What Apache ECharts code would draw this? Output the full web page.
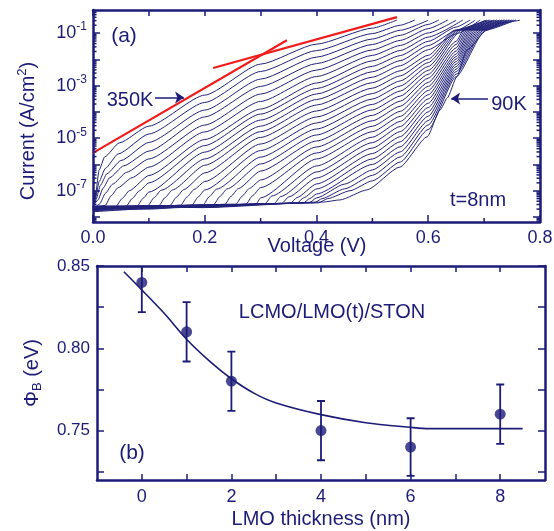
<!DOCTYPE html>
<html>
<head>
<meta charset="utf-8">
<script src="https://cdn.jsdelivr.net/npm/echarts@6/dist/echarts.min.js"></script>
<style>
  html, body { margin: 0; padding: 0; background: #fff; }
  #chart { width: 554px; height: 531px; }
</style>
</head>
<body>
<div id="chart"></div>
<script>
// (a) J-V curves, [voltage V, log10 current A/cm2], 350K on top down to 90K
const ivCurves = [
  [[0,-7.72],[0.004,-7.2],[0.011,-6.21],[0.021,-5.71],[0.047,-5.18],[0.1,-4.54],[0.2,-3.36],[0.3,-2.18],[0.4,-1.42],[0.5,-0.81],[0.544,-0.5]],
  [[0,-7.65],[0.005,-7.2],[0.011,-6.65],[0.022,-6.15],[0.045,-5.6],[0.1,-4.84],[0.2,-3.64],[0.3,-2.46],[0.4,-1.665],[0.5,-1.017],[0.55,-0.699],[0.576,-0.5]],
  [[0,-7.7],[0.006,-7.3],[0.013,-6.8],[0.025,-6.35],[0.05,-5.85],[0.1,-5.16],[0.2,-3.93],[0.3,-2.75],[0.4,-1.913],[0.5,-1.225],[0.55,-0.891],[0.6,-0.51]],
  [[0,-7.6],[0.009,-7.35],[0.018,-6.9],[0.03,-6.5],[0.055,-6.05],[0.1,-5.49],[0.2,-4.19],[0.3,-3.03],[0.4,-2.16],[0.5,-1.433],[0.55,-1.084],[0.6,-0.669],[0.619,-0.5]],
  [[0,-7.75],[0.012,-7.5],[0.022,-7.1],[0.035,-6.75],[0.06,-6.3],[0.1,-5.79],[0.2,-4.5],[0.3,-3.32],[0.4,-2.407],[0.5,-1.64],[0.55,-1.277],[0.6,-0.829],[0.635,-0.5]],
  [[0,-7.64],[0.022,-7.56],[0.032,-7.2],[0.045,-6.88],[0.07,-6.5],[0.1,-6.1],[0.2,-4.76],[0.3,-3.6],[0.4,-2.654],[0.5,-1.848],[0.55,-1.47],[0.6,-0.992],[0.65,-0.51]],
  [[0,-7.7],[0.041,-7.6],[0.052,-7.3],[0.065,-7.0],[0.1,-6.42],[0.2,-5.05],[0.3,-3.89],[0.4,-2.901],[0.5,-2.056],[0.55,-1.662],[0.6,-1.152],[0.662,-0.5]],
  [[0,-7.62],[0.059,-7.6],[0.07,-7.3],[0.083,-7.0],[0.1,-6.7],[0.2,-5.28],[0.3,-4.08],[0.4,-3.11],[0.5,-2.263],[0.55,-1.855],[0.6,-1.312],[0.65,-0.768],[0.675,-0.5]],
  [[0,-7.78],[0.079,-7.59],[0.09,-7.28],[0.1,-7.05],[0.2,-5.53],[0.3,-4.31],[0.4,-3.319],[0.5,-2.471],[0.55,-2.048],[0.6,-1.475],[0.65,-0.901],[0.684,-0.51]],
  [[0,-7.66],[0.098,-7.58],[0.109,-7.27],[0.122,-6.98],[0.2,-5.79],[0.3,-4.54],[0.4,-3.529],[0.5,-2.678],[0.55,-2.241],[0.6,-1.631],[0.65,-1.027],[0.693,-0.5]],
  [[0,-7.58],[0.118,-7.57],[0.129,-7.26],[0.142,-6.97],[0.2,-6.03],[0.3,-4.75],[0.4,-3.738],[0.5,-2.886],[0.55,-2.434],[0.6,-1.844],[0.648,-0.886],[0.702,-0.52]],
  [[0,-7.72],[0.1,-7.62],[0.138,-7.56],[0.149,-7.25],[0.162,-6.96],[0.2,-6.32],[0.3,-4.97],[0.4,-3.966],[0.5,-3.094],[0.55,-2.626],[0.6,-1.985],[0.651,-0.886],[0.705,-0.5]],
  [[0,-7.6],[0.1,-7.66],[0.157,-7.55],[0.168,-7.24],[0.181,-6.95],[0.2,-6.65],[0.3,-5.22],[0.4,-4.194],[0.5,-3.301],[0.55,-2.819],[0.6,-2.122],[0.654,-0.886],[0.708,-0.51]],
  [[0,-7.68],[0.1,-7.58],[0.177,-7.55],[0.188,-7.24],[0.2,-6.97],[0.3,-5.47],[0.4,-4.422],[0.5,-3.509],[0.55,-3.012],[0.6,-2.27],[0.657,-0.886],[0.711,-0.5]],
  [[0,-7.74],[0.1,-7.6],[0.197,-7.54],[0.208,-7.23],[0.221,-6.94],[0.3,-5.72],[0.4,-4.65],[0.5,-3.716],[0.55,-3.205],[0.6,-2.418],[0.66,-0.886],[0.714,-0.52]],
  [[0,-7.64],[0.1,-7.7],[0.216,-7.53],[0.227,-7.22],[0.24,-6.93],[0.3,-5.98],[0.4,-4.878],[0.5,-3.924],[0.55,-3.397],[0.6,-2.567],[0.65,-1.312],[0.663,-0.886],[0.717,-0.5]],
  [[0,-7.7],[0.15,-7.6],[0.236,-7.52],[0.247,-7.21],[0.26,-6.92],[0.3,-6.25],[0.4,-5.106],[0.5,-4.132],[0.55,-3.59],[0.6,-2.715],[0.65,-1.433],[0.666,-0.886],[0.719,-0.51]],
  [[0,-7.62],[0.15,-7.56],[0.256,-7.51],[0.267,-7.2],[0.28,-6.91],[0.3,-6.59],[0.4,-5.335],[0.5,-4.339],[0.55,-3.783],[0.6,-2.875],[0.65,-1.563],[0.669,-0.886],[0.723,-0.5]],
  [[0,-7.8],[0.15,-7.63],[0.274,-7.51],[0.285,-7.2],[0.3,-6.88],[0.4,-5.563],[0.5,-4.547],[0.55,-3.976],[0.6,-3.027],[0.65,-1.684],[0.672,-0.886],[0.726,-0.52]],
  [[0,-7.66],[0.2,-7.58],[0.292,-7.5],[0.3,-7.27],[0.4,-5.791],[0.5,-4.754],[0.55,-4.169],[0.6,-3.186],[0.65,-1.798],[0.675,-0.886],[0.728,-0.5]],
  [[0,-7.6],[0.2,-7.64],[0.308,-7.49],[0.32,-7.2],[0.4,-6.057],[0.5,-4.962],[0.55,-4.361],[0.6,-3.346],[0.65,-1.894],[0.678,-0.886],[0.732,-0.5]],
  [[0,-7.72],[0.2,-7.55],[0.324,-7.49],[0.336,-7.22],[0.4,-6.285],[0.5,-5.17],[0.55,-4.554],[0.6,-3.506],[0.65,-1.989],[0.681,-0.886],[0.735,-0.5]],
  [[0,-7.65],[0.2,-7.6],[0.338,-7.48],[0.35,-7.24],[0.4,-6.513],[0.5,-5.377],[0.55,-4.747],[0.6,-3.669],[0.65,-2.084],[0.684,-0.886],[0.737,-0.5]],
  [[0,-7.76],[0.2,-7.62],[0.353,-7.48],[0.365,-7.26],[0.4,-6.741],[0.5,-5.585],[0.55,-4.94],[0.6,-3.833],[0.65,-2.179],[0.687,-0.886],[0.741,-0.5]],
  [[0,-7.62],[0.2,-7.56],[0.365,-7.47],[0.377,-7.27],[0.4,-6.932],[0.5,-5.792],[0.55,-5.133],[0.6,-4.0],[0.65,-2.274],[0.69,-0.886],[0.744,-0.5]],
  [[0,-7.7],[0.2,-7.6],[0.376,-7.47],[0.388,-7.3],[0.4,-7.122],[0.5,-6.0],[0.55,-5.325],[0.6,-4.163],[0.65,-2.369],[0.693,-0.886],[0.746,-0.5]],
  [[0,-7.6],[0.2,-7.64],[0.387,-7.46],[0.4,-7.274],[0.45,-6.75],[0.5,-6.208],[0.55,-5.518],[0.6,-4.331],[0.65,-2.464],[0.696,-0.886],[0.75,-0.5]],
  [[0,-7.74],[0.2,-7.58],[0.396,-7.46],[0.41,-7.3],[0.45,-6.93],[0.5,-6.415],[0.55,-5.711],[0.6,-4.498],[0.65,-2.559],[0.699,-0.886],[0.753,-0.5]],
  [[0,-7.66],[0.2,-7.55],[0.404,-7.46],[0.42,-7.3],[0.46,-7.0],[0.5,-6.623],[0.55,-5.904],[0.6,-4.669],[0.65,-2.654],[0.702,-0.886],[0.757,-0.5]],
  [[0,-7.7],[0.2,-7.58],[0.412,-7.43],[0.442,-7.35],[0.49,-6.97],[0.549,-6.1],[0.598,-4.95],[0.621,-3.93],[0.634,-3.47],[0.651,-2.67],[0.669,-1.65],[0.705,-0.89],[0.728,-0.62],[0.764,-0.51]]
];

// red tangent lines
const redLineA = [[0, -5.56], [0.347, -1.27]];
const redLineB = [[0.215, -2.33], [0.544, -0.39]];

// annotation arrows (start, end) in data units
const arrow350 = [[0.111, -3.45], [0.163, -3.45]];
const arrow90 = [[0.707, -3.49], [0.641, -3.49]];

const voltLabels = [0, 0.2, 0.4, 0.6, 0.8];
const voltMinor = [0.1, 0.3, 0.5, 0.7];
const logLabels = [-7, -5, -3, -1];
const logDecades = [-8, -7, -6, -5, -4, -3, -2, -1];

// (b) barrier height vs LMO thickness
const thickness = [0, 1, 2, 4, 6, 8];
const barrier = [0.84, 0.81, 0.78, 0.75, 0.74, 0.76];
const barrierErr = [0.018, 0.018, 0.018, 0.018, 0.0175, 0.018];
const fitX = [-0.4, 0, 0.5, 1, 1.5, 2, 2.5, 3, 4, 5, 6, 6.4, 7, 8, 8.5];
const fitY = [0.8465, 0.8355, 0.8213, 0.8055, 0.7925, 0.7815, 0.7728, 0.7668, 0.7597, 0.7548, 0.752, 0.7512, 0.7512, 0.7512, 0.7512];
const phiLabels = [0.75, 0.80, 0.85];
const phiTicks = [0.725, 0.75, 0.775, 0.8, 0.825, 0.85];
const thickLabels = [0, 2, 4, 6, 8];
const thickTicks = [0, 1, 2, 3, 4, 5, 6, 7, 8];

const NAVY = '#1c1c78';
const CURVE = '#22227a';
const FONT = '"Liberation Sans", Arial, sans-serif';
const LOGMIN = -8.19, LOGMAX = -0.12;

// log minor ticks (2..9 x 10^n)
const logMinor = [];
for (let n = -9; n <= 0; n++) {
  for (let k = 2; k <= 9; k++) {
    const v = n + Math.log10(k);
    if (v > LOGMIN && v < LOGMAX) logMinor.push(v);
  }
}

const chart = echarts.init(document.getElementById('chart'));

const lblStyle = { color: NAVY, fontSize: 18, fontFamily: FONT };

function axis(grid, pos, min, max, ticks, len, label) {
  return {
    type: 'value', gridIndex: grid, position: pos, min: min, max: max,
    axisLine: { show: true, onZero: false, lineStyle: { color: NAVY, width: 2.5 } },
    axisTick: { show: true, inside: true, length: len, customValues: ticks,
      lineStyle: { color: NAVY, width: 1.5 } },
    axisLabel: label || { show: false },
    splitLine: { show: false }
  };
}

const logLabel = {
  customValues: logLabels, margin: 6,
  formatter: v => '{b|10}{s|' + Math.round(v) + '}',
  rich: {
    b: { color: NAVY, fontSize: 18, fontFamily: FONT, lineHeight: 24 },
    s: { color: NAVY, fontSize: 12, fontFamily: FONT, lineHeight: 12, verticalAlign: 'top' }
  }
};

const yLeftA = axis(0, 'left', LOGMIN, LOGMAX, logDecades, 7, logLabel);
Object.assign(yLeftA, {
  name: '{a|Current (A/cm}{s|2}{a|)}', nameLocation: 'middle', nameRotate: 90, nameGap: 53,
  nameMoveOverlap: false,
  nameTextStyle: {
    padding: [0, 30, 0, 0],
    rich: {
      a: { color: NAVY, fontSize: 20, fontFamily: FONT, lineHeight: 24 },
      s: { color: NAVY, fontSize: 13, fontFamily: FONT, lineHeight: 13, verticalAlign: 'top' }
    }
  }
});

const yLeftB = axis(1, 'left', 0.72, 0.85, phiTicks, 7,
  Object.assign({ customValues: phiLabels, margin: 7, formatter: v => v.toFixed(2) }, lblStyle, { fontSize: 17 }));
Object.assign(yLeftB, {
  name: '{a|\u03A6}{b|B}{a| (eV)}', nameLocation: 'middle', nameRotate: 90, nameGap: 53,
  nameMoveOverlap: false,
  nameTextStyle: {
    rich: {
      a: { color: NAVY, fontSize: 20, fontFamily: FONT, lineHeight: 24 },
      b: { color: NAVY, fontSize: 13, fontFamily: FONT, lineHeight: 13, verticalAlign: 'bottom' }
    }
  }
});

const option = {
  backgroundColor: '#ffffff',
  animation: false,
  grid: [
    { left: 93, top: 10, width: 447, height: 212, outerBoundsMode: 'none' },
    { left: 97, top: 266, width: 448, height: 214, outerBoundsMode: 'none' }
  ],
  xAxis: [
    axis(0, 'bottom', 0, 0.8, voltLabels, 7,
      Object.assign({ customValues: voltLabels, margin: 7, formatter: v => v.toFixed(1) }, lblStyle)),
    axis(0, 'top', 0, 0.8, voltLabels.concat(voltMinor), 6),
    axis(1, 'bottom', -1, 9, thickTicks, 6,
      Object.assign({ customValues: thickLabels, margin: 8, formatter: v => String(v) }, lblStyle)),
    axis(1, 'top', -1, 9, thickTicks, 6)
  ],
  yAxis: [
    yLeftA,
    axis(0, 'right', LOGMIN, LOGMAX, logDecades, 7),
    yLeftB,
    axis(1, 'right', 0.72, 0.85, phiTicks, 7)
  ],
  series: []
};

ivCurves.forEach(d => {
  option.series.push({
    type: 'line', xAxisIndex: 0, yAxisIndex: 0, data: d,
    symbol: 'none', smooth: 0.2, smoothMonotone: 'x', silent: true, z: 2,
    lineStyle: { color: CURVE, width: 1 }
  });
});

option.series.push({
  type: 'line', xAxisIndex: 0, yAxisIndex: 0, data: redLineA,
  symbol: 'none', silent: true, z: 4,
  lineStyle: { color: '#f01c1c', width: 2.2 },
  markLine: {
    silent: true, symbol: ['none', 'arrow'], symbolSize: 9,
    label: { show: false },
    emphasis: { disabled: true },
    lineStyle: { color: NAVY, width: 1.5, type: 'solid' },
    data: [
      [{ coord: arrow350[0] }, { coord: arrow350[1] }],
      [{ coord: arrow90[0] }, { coord: arrow90[1] }]
    ]
  }
});
option.series.push({
  type: 'line', xAxisIndex: 0, yAxisIndex: 0, data: redLineB,
  symbol: 'none', silent: true, z: 4,
  lineStyle: { color: '#f01c1c', width: 2.2 }
});

// short minor ticks of panel (a): side 0 = left, 1 = right, 2 = bottom
option.series.push({
  type: 'custom', xAxisIndex: 0, yAxisIndex: 0, silent: true, z: 6,
  data: logMinor.map(v => [0, v, 0]).concat(logMinor.map(v => [0, v, 1]), voltMinor.map(v => [v, LOGMIN, 2])),
  encode: { x: 0, y: 1 },
  renderItem: function (params, api) {
    const cs = params.coordSys;
    const st = { stroke: NAVY, lineWidth: 1.5 };
    const side = api.value(2);
    if (side === 2) {
      const px = api.coord([api.value(0), LOGMIN])[0];
      return { type: 'line', shape: { x1: px, y1: cs.y + cs.height, x2: px, y2: cs.y + cs.height - 4 }, style: st };
    }
    const y = api.coord([0, api.value(1)])[1];
    const x0 = side === 0 ? cs.x : cs.x + cs.width;
    const x1 = side === 0 ? cs.x + 3.5 : cs.x + cs.width - 3.5;
    return { type: 'line', shape: { x1: x0, y1: y, x2: x1, y2: y }, style: st };
  }
});

// (b) fit, points, error bars
option.series.push({
  type: 'line', xAxisIndex: 2, yAxisIndex: 2,
  data: fitX.map((x, i) => [x, fitY[i]]),
  symbol: 'none', smooth: 0.3, silent: true,
  lineStyle: { color: NAVY, width: 1.6 }
});
option.series.push({
  type: 'scatter', xAxisIndex: 2, yAxisIndex: 2,
  data: thickness.map((t, i) => [t, barrier[i]]),
  symbolSize: 11, itemStyle: { color: NAVY }, z: 5
});
option.series.push({
  type: 'custom', xAxisIndex: 2, yAxisIndex: 2, clip: true, z: 4,
  data: thickness.map((t, i) => [t, barrier[i] - barrierErr[i], barrier[i] + barrierErr[i]]),
  encode: { x: 0, y: [1, 2] },
  renderItem: function (params, api) {
    const lo = api.coord([api.value(0), api.value(1)]);
    const hi = api.coord([api.value(0), api.value(2)]);
    const w = 4;
    return {
      type: 'polyline',
      shape: { points: [[hi[0] - w, hi[1]], [hi[0] + w, hi[1]], [hi[0], hi[1]], [lo[0], lo[1]], [lo[0] - w, lo[1]], [lo[0] + w, lo[1]]] },
      style: { stroke: NAVY, lineWidth: 1.8, fill: null }
    };
  }
});

function txt(x, y, text, size) {
  return {
    type: 'text', x: x, y: y, z: 10,
    style: { text: text, fill: NAVY, font: size + 'px ' + FONT, align: 'center', verticalAlign: 'middle' }
  };
}

option.graphic = [
  txt(124, 36, '(a)', 21),
  txt(130, 100, '350K', 20),
  txt(509, 104, '90K', 20),
  txt(478, 200, 't=8nm', 20),
  txt(317, 246, 'Voltage (V)', 20),
  txt(132, 453, '(b)', 21),
  txt(332, 312, 'LCMO/LMO(t)/STON', 20),
  txt(321, 519, 'LMO thickness (nm)', 20)
];

chart.setOption(option);
</script>
</body>
</html>
